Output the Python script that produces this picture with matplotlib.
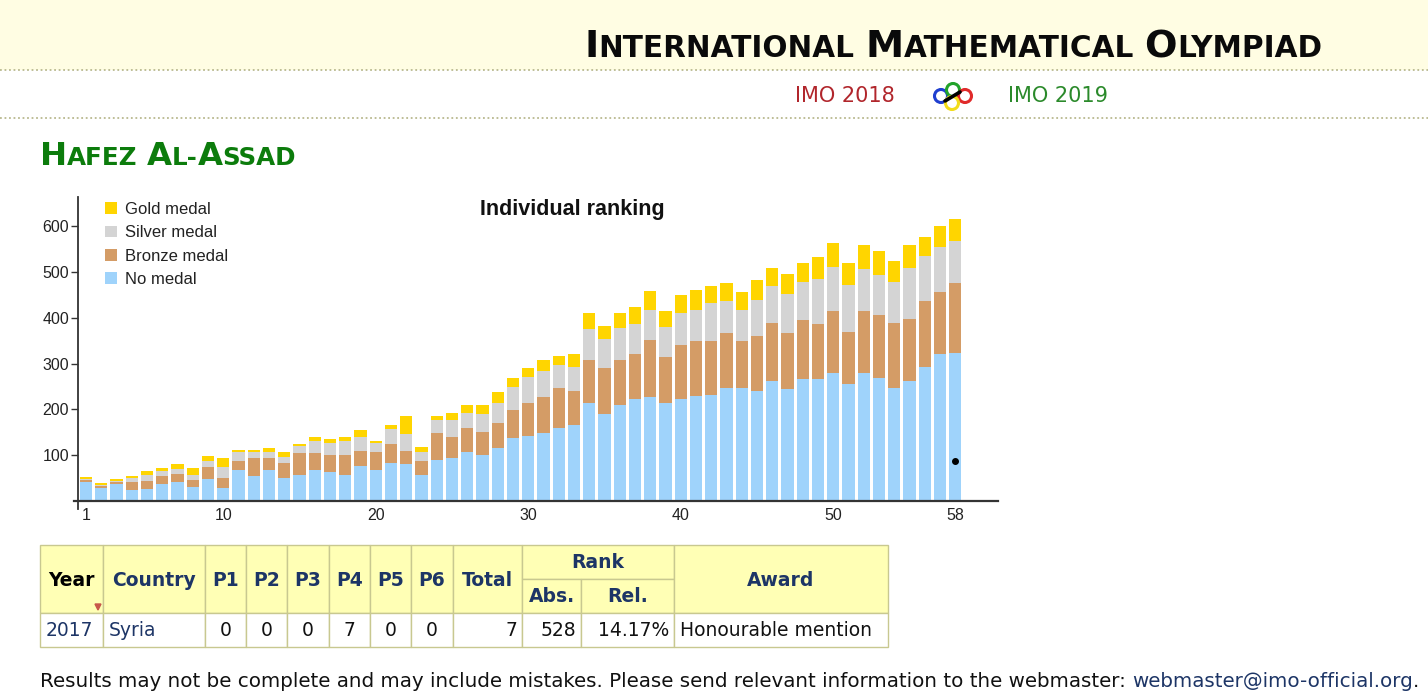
import matplotlib
matplotlib.use('Agg')
import matplotlib.pyplot as plt
from matplotlib.patches import Rectangle, Polygon, Circle
from matplotlib.lines import Line2D

W, H = 1428, 700

# IMO number 1..58, stacked counts per award
imo_number = list(range(1, 59))
no_medal = [41, 28, 38, 24, 27, 37, 42, 30, 47, 29,
            67, 54, 68, 51, 57, 67, 64, 57, 76, 67,
            83, 80, 57, 90, 94, 106, 100, 116, 137, 143,
            149, 160, 167, 213, 189, 210, 223, 227, 213, 223,
            229, 231, 246, 246, 240, 263, 244, 266, 266, 279,
            256, 279, 269, 246, 262, 293, 320, 324]
bronze = [4, 5, 3, 17, 17, 17, 18, 15, 27, 22,
          21, 41, 26, 31, 47, 37, 37, 44, 34, 40,
          41, 29, 30, 59, 46, 54, 50, 54, 62, 70,
          78, 87, 73, 96, 102, 99, 97, 124, 101, 118,
          120, 118, 120, 103, 120, 126, 122, 130, 121, 137,
          114, 137, 137, 143, 135, 144, 137, 153]
silver = [2, 1, 2, 9, 13, 11, 10, 12, 13, 24,
          19, 11, 13, 15, 16, 26, 25, 29, 30, 19,
          34, 38, 20, 27, 36, 32, 41, 44, 50, 57,
          57, 49, 53, 67, 62, 69, 66, 67, 66, 69,
          69, 83, 71, 69, 78, 80, 87, 83, 98, 95,
          102, 90, 87, 90, 112, 98, 97, 90]
gold = [5, 5, 5, 4, 8, 7, 11, 14, 11, 20,
        5, 6, 8, 10, 5, 10, 9, 9, 15, 6,
        8, 38, 12, 10, 16, 17, 19, 23, 19, 21,
        23, 21, 27, 34, 30, 32, 38, 41, 36, 40,
        42, 37, 39, 38, 45, 40, 43, 41, 48, 52,
        48, 53, 53, 46, 51, 41, 46, 48]

x_ticks = [1, 10, 20, 30, 40, 50, 58]
y_ticks = [100, 200, 300, 400, 500, 600]

# the contestant
person_imo = 58
person_rank = 528

header_cols = ['Year', 'Country', 'P1', 'P2', 'P3', 'P4', 'P5', 'P6', 'Total']
rank_cols = ['Abs.', 'Rel.']
row_values = ['2017', 'Syria', '0', '0', '0', '7', '0', '0', '7', '528', '14.17%', 'Honourable mention']

NAVY = '#1d3566'
fig = plt.figure(figsize=(W / 100, H / 100), dpi=100)
fig.patch.set_facecolor('white')
renderer = fig.canvas.get_renderer()


def fx(x):
    return x / W


def fy(y):
    return 1 - y / H


def add_rect(x0, y0, x1, y1, fc, ec='none', lw=0):
    fig.add_artist(Rectangle((fx(x0), fy(y1)), (x1 - x0) / W, (y1 - y0) / H,
                             transform=fig.transFigure, facecolor=fc,
                             edgecolor=ec, linewidth=lw))


def runs_text(runs, x, y, width=None, align='left', **kw):
    # runs: list of (text, size, color, weight); fitted to width if given
    arts = []
    for s, size, color, weight in runs:
        t = fig.text(0, fy(y), s, fontsize=size, color=color, fontweight=weight,
                     va='baseline', ha='left', **kw)
        arts.append([t, size])

    def measure():
        tot = 0
        offs = []
        for t, size in arts:
            offs.append(tot)
            if t.get_text().strip() == '':
                tot += 0.36 * size * 100 / 72
            else:
                tot += t.get_window_extent(renderer).width
        return tot, offs

    tot, offs = measure()
    if width:
        k = width / tot
        for a in arts:
            a[1] = a[1] * k
            a[0].set_fontsize(a[1])
        tot, offs = measure()
    start = x if align == 'left' else x - tot
    for (t, _), o in zip(arts, offs):
        t.set_x(fx(start + o))


def small_caps(text, big, small, color):
    runs = []
    for ch in text:
        if ch == ' ':
            runs.append((' ', small, color, 'bold'))
            continue
        size = big if ch.isupper() else small
        if runs and runs[-1][1] == size and runs[-1][0] != ' ':
            runs[-1] = (runs[-1][0] + ch.upper(), size, color, 'bold')
        else:
            runs.append((ch.upper(), size, color, 'bold'))
    return runs


# ---- page header
add_rect(0, 0, W, 70, '#fffde3')
for yy in (70, 118):
    fig.add_artist(Line2D([0, 1], [fy(yy), fy(yy)], transform=fig.transFigure,
                          color='#b9b98f', lw=1.3, ls=(0, (1, 1.5))))

runs_text(small_caps('International Mathematical Olympiad', 24, 18.5, '#0a0a0a'),
          1322, 57, width=739, align='right')
fig.text(fx(845), fy(96), 'IMO 2018', fontsize=15, color='#b1262c', ha='center', va='center')
fig.text(fx(1058), fy(96), 'IMO 2019', fontsize=15, color='#2b8a2b', ha='center', va='center')

logo = fig.add_axes([fx(928), fy(114), 50 / W, 38 / H])
logo.set_xlim(928, 978)
logo.set_ylim(114, 76)
logo.axis('off')
for (cx, cy), c in zip([(941, 96), (953, 90), (965, 96), (952, 103)],
                       ['#1f3fd0', '#22a32a', '#e02a2a', '#f2dc1a']):
    logo.add_patch(Circle((cx, cy), 6.5, fill=False, edgecolor=c, lw=2.2))
logo.plot([945, 960], [101, 92], color='black', lw=2.6, solid_capstyle='round')

runs_text(small_caps('Hafez Al-Assad', 23, 17.5, '#0c7c0c'), 40, 165, width=256)

# ---- chart
ax = fig.add_axes([fx(78), fy(501), (998 - 78) / W, (501 - 197) / H])
ax.bar(imo_number, no_medal, width=0.8, color='#9fd3fb', label='No medal')
b1 = [a for a in no_medal]
ax.bar(imo_number, bronze, width=0.8, bottom=b1, color='#d49c66', label='Bronze medal')
b2 = [a + b for a, b in zip(b1, bronze)]
ax.bar(imo_number, silver, width=0.8, bottom=b2, color='#d4d4d4', label='Silver medal')
b3 = [a + b for a, b in zip(b2, silver)]
ax.bar(imo_number, gold, width=0.8, bottom=b3, color='#ffd500', label='Gold medal')
totals = [a + b for a, b in zip(b3, gold)]

ax.plot([person_imo], [totals[person_imo - 1] - person_rank], 'o', color='black', ms=4)

ax.set_xlim(0.475, 60.8)
ax.set_ylim(0, 664)
for s in ax.spines.values():
    s.set_visible(False)
ax.plot([-0.004, 1], [0, 0], transform=ax.transAxes, color='#333333', lw=1.6, clip_on=False)
ax.plot([0, 0], [-0.025, 1], transform=ax.transAxes, color='#333333', lw=1.3, clip_on=False)
ax.set_yticks(y_ticks)
ax.set_xticks(x_ticks)
ax.tick_params(axis='y', length=5, width=1, color='#333333', pad=1.5, labelsize=11.5,
               labelcolor='#222222')
ax.tick_params(axis='x', length=0, pad=5, labelsize=11.5, labelcolor='#222222')
for lab in ax.get_xticklabels() + ax.get_yticklabels():
    lab.set_fontfamily('Liberation Sans')
ax.text((572 - 78) / 920, (501 - 210) / 304, 'Individual ranking', transform=ax.transAxes,
        ha='center', va='center', fontsize=15.5, fontweight='bold', color='#111111',
        family='Liberation Sans')
h, l = ax.get_legend_handles_labels()
ax.legend(h[::-1], l[::-1], loc='upper left', bbox_to_anchor=((105 - 78) / 920, (501 - 202) / 304),
          frameon=False, borderpad=0, borderaxespad=0, handlelength=0.72, handleheight=0.72,
          handletextpad=0.5, labelspacing=0.5,
          prop={'family': 'Liberation Sans', 'size': 12}, labelcolor='#222222')

# ---- results table
edges = [40, 103, 205, 246, 287, 329, 370, 411, 453, 522, 581, 674, 888]
top, mid, hbot, bot = 545, 579, 613, 647
HEAD = '#ffffb5'
BORDER = '#c8c890'
for i, name in enumerate(header_cols):
    add_rect(edges[i], top, edges[i + 1], hbot, HEAD, BORDER, 1)
    fig.text(fx((edges[i] + edges[i + 1]) / 2), fy((top + hbot) / 2 + 1), name,
             fontsize=13.5, fontweight='bold', color='black' if i == 0 else NAVY,
             ha='center', va='center')
add_rect(edges[9], top, edges[11], mid, HEAD, BORDER, 1)
fig.text(fx((edges[9] + edges[11]) / 2), fy((top + mid) / 2 + 1), 'Rank', fontsize=13.5,
         fontweight='bold', color=NAVY, ha='center', va='center')
for j, name in enumerate(rank_cols):
    add_rect(edges[9 + j], mid, edges[10 + j], hbot, HEAD, BORDER, 1)
    fig.text(fx((edges[9 + j] + edges[10 + j]) / 2), fy((mid + hbot) / 2 + 1), name,
             fontsize=13.5, fontweight='bold', color=NAVY, ha='center', va='center')
add_rect(edges[11], top, edges[12], hbot, HEAD, BORDER, 1)
fig.text(fx((edges[11] + edges[12]) / 2), fy((top + hbot) / 2 + 1), 'Award', fontsize=13.5,
         fontweight='bold', color=NAVY, ha='center', va='center')
fig.add_artist(Polygon([[fx(95), fy(604)], [fx(101), fy(604)], [fx(98), fy(610)]],
                       closed=True, transform=fig.transFigure, color='#c8584a'))

for i, val in enumerate(row_values):
    x0, x1 = edges[i], edges[i + 1]
    add_rect(x0, hbot, x1, bot, 'white', BORDER, 1)
    if i in (0, 1, 11):
        xt, ha = x0 + 6, 'left'
    elif i in (8, 9, 10):
        xt, ha = x1 - 5, 'right'
    else:
        xt, ha = (x0 + x1) / 2, 'center'
    fig.text(fx(xt), fy(631), val, fontsize=13.5, color=NAVY if i < 2 else '#111111',
             ha=ha, va='center')

# ---- footer
runs_text([('Results may not be complete and may include mistakes. Please send relevant '
            'information to the webmaster: ', 13.5, '#111111', 'normal'),
           ('webmaster@imo-official.org', 13.5, NAVY, 'normal'),
           ('.', 13.5, '#111111', 'normal')], 40, 687, width=1380)

fig.savefig('out.png', dpi=100, facecolor='white')
